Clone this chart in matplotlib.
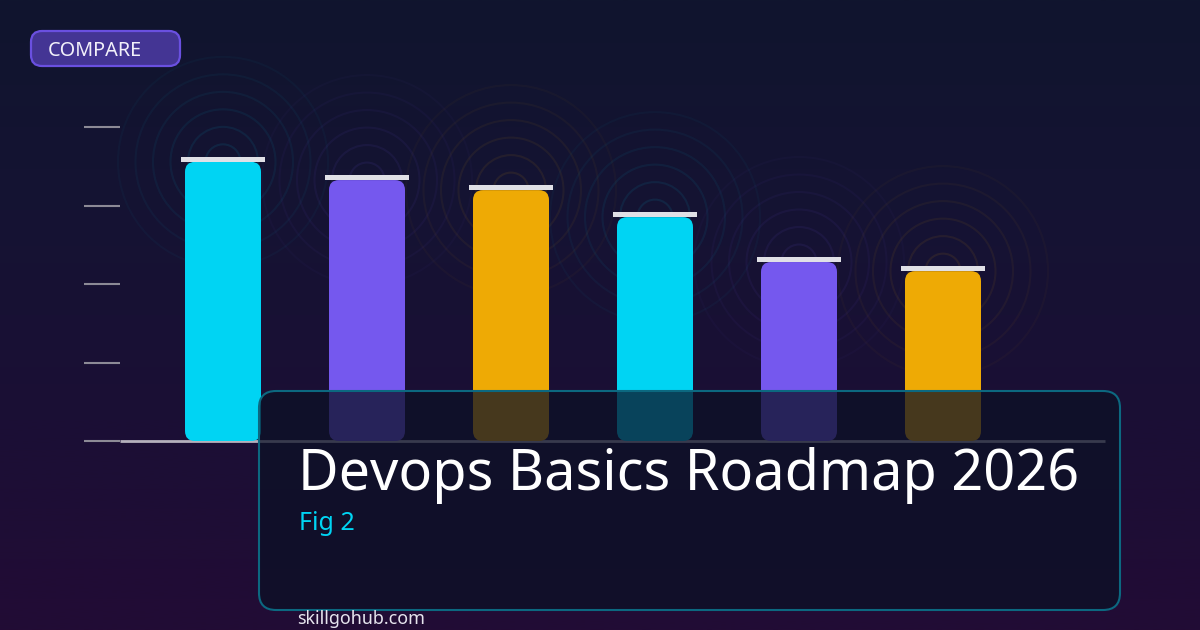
import numpy as np
import matplotlib
matplotlib.use("Agg")
from matplotlib import pyplot as plt
from matplotlib.colors import LinearSegmentedColormap, to_rgba
from matplotlib.patches import FancyBboxPatch

plt.rcParams['font.family'] = ['Noto Sans', 'DejaVu Sans']

# values (axis has no labels, ticks taken as 0-100)
positions = [0, 1, 2, 3, 4, 5]
values = [88.9, 83.1, 79.9, 71.3, 57.0, 54.1]
bar_colors = ['#00d4f3', '#7558ee', '#eeaa05', '#00d4f3', '#7558ee', '#eeaa05']
y_ticks = [0, 25, 50, 75, 100]

title = 'Devops Basics Roadmap 2026'
subtitle = 'Fig 2'
tag = 'COMPARE'
source = 'skillgohub.com'

W, H = 1200, 630
fig = plt.figure(figsize=(W / 100, H / 100), dpi=100)


def px_axes(left, top, right, bottom, **kw):
    return fig.add_axes([left / W, 1 - bottom / H, (right - left) / W, (bottom - top) / H], **kw)


# background gradient
bg = px_axes(0, 0, W, H, zorder=0)
cmap = LinearSegmentedColormap.from_list('bg', ['#10152e', '#151333', '#1b0f35', '#220c35'])
bg.imshow(np.linspace(0, 1, 256).reshape(-1, 1), aspect='auto', cmap=cmap)
bg.axis('off')

# main chart, 1 x unit = 144 px, 1 y unit = 3.14 px
ax = px_axes(120, 127, 1105, 441, zorder=1)
ax.patch.set_alpha(0)
ax.set_xlim((120 - 223) / 144, (1105 - 223) / 144)
ax.set_ylim(0, 100)
x_unit, y_unit = 144, 3.14

for s in ['top', 'right', 'left']:
    ax.spines[s].set_visible(False)
ax.spines['bottom'].set_color('#b4b0bc')
ax.spines['bottom'].set_linewidth(2)
ax.spines['bottom'].set_capstyle('butt')
ax.set_xticks([])
ax.set_yticks(y_ticks)
ax.set_yticklabels([])
ax.tick_params(axis='y', length=26, width=1.5, color='#8c8a96')

# rings behind each bar
for x, v, c in zip(positions, values, bar_colors):
    for i in range(6):
        d = 2 * 17.5 * (i + 1) * 0.72
        ax.scatter([x], [v], s=d ** 2, facecolors='none', edgecolors=[to_rgba(c, 0.09 - 0.012 * i)],
                   linewidths=1.5, zorder=1, clip_on=False)

# rounded bars
radius = 10
for x, v, c in zip(positions, values, bar_colors):
    w = 76 / x_unit
    box = FancyBboxPatch((x - w / 2, 0), w, v,
                         boxstyle='round,pad=0,rounding_size=%f' % (radius / x_unit),
                         mutation_aspect=(radius / y_unit) / (radius / x_unit),
                         facecolor=c, edgecolor='none', zorder=3, clip_on=False)
    ax.add_patch(box)

# cap on top of each bar
ax.bar(positions, [5 / y_unit] * 6, bottom=values, width=84 / x_unit, color='#e0e0e6', zorder=4)

# overlay in pixel coordinates
top = px_axes(0, 0, W, H, zorder=5)
top.set_xlim(0, W)
top.set_ylim(H, 0)
top.patch.set_alpha(0)
top.axis('off')

top.add_patch(FancyBboxPatch((259, 391), 861, 219, boxstyle='round,pad=0,rounding_size=17',
                             facecolor=to_rgba('#0c1126', 0.74), edgecolor='#0c6880', linewidth=1.5))
top.add_patch(FancyBboxPatch((31, 31), 149, 35, boxstyle='round,pad=0,rounding_size=11',
                             facecolor='#443594', edgecolor='#6a50e0', linewidth=1.6))

top.text(298.5, 490, title, fontsize=40.2, color='white', va='baseline', ha='left')
top.text(299, 530, subtitle, fontsize=18.1, color='#00d4f3', va='baseline', ha='left')
top.text(48, 56, tag, fontsize=14.3, color='#f2f0fa', va='baseline', ha='left')
top.text(297.5, 624, source, fontsize=12.95, color='#e6e4ee', va='baseline', ha='left')

fig.savefig('out.png', dpi=100)
